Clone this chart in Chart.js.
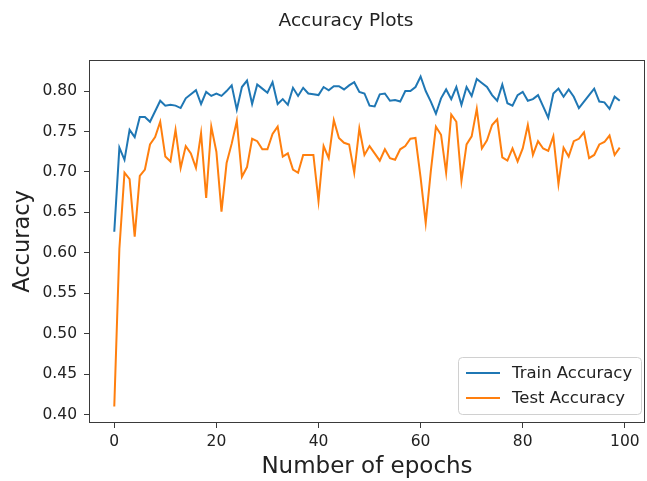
<!DOCTYPE html>
<html>
<head>
<meta charset="utf-8">
<script src="https://cdn.jsdelivr.net/npm/chart.js@4.4.1/dist/chart.umd.min.js"></script>
<style>
    html, body { margin: 0; padding: 0; background: #fff; }
    #wrap { width: 647px; height: 481px; }
</style>
</head>
<body>
<div id="wrap"><canvas id="chart-acc" width="647" height="481"></canvas></div>
<script>
const epochs = Array.from({ length: 100 }, (_, i) => i);

const trainAcc = [
    0.626, 0.730, 0.715, 0.752, 0.743, 0.768, 0.768, 0.762, 0.775, 0.788,
    0.782, 0.783, 0.782, 0.779, 0.791, 0.796, 0.801, 0.784, 0.799, 0.794,
    0.797, 0.794, 0.800, 0.807, 0.777, 0.805, 0.813, 0.784, 0.808, 0.803,
    0.798, 0.811, 0.784, 0.790, 0.783, 0.804, 0.794, 0.804, 0.797, 0.796,
    0.795, 0.805, 0.801, 0.806, 0.806, 0.802, 0.807, 0.811, 0.799, 0.797,
    0.782, 0.781, 0.796, 0.797, 0.788, 0.789, 0.787, 0.800, 0.800, 0.805,
    0.818, 0.800, 0.787, 0.772, 0.791, 0.802, 0.790, 0.805, 0.783, 0.805,
    0.794, 0.815, 0.810, 0.805, 0.795, 0.788, 0.808, 0.785, 0.782, 0.795,
    0.799, 0.788, 0.790, 0.795, 0.781, 0.767, 0.797, 0.803, 0.793, 0.802,
    0.793, 0.779, 0.787, 0.795, 0.803, 0.787, 0.786, 0.778, 0.793, 0.788
];

const testAcc = [
    0.410, 0.605, 0.699, 0.691, 0.620, 0.695, 0.703, 0.734, 0.743, 0.762,
    0.719, 0.713, 0.752, 0.705, 0.732, 0.723, 0.705, 0.748, 0.668, 0.756,
    0.725, 0.651, 0.711, 0.735, 0.763, 0.694, 0.706, 0.741, 0.738, 0.728,
    0.728, 0.747, 0.756, 0.719, 0.723, 0.703, 0.699, 0.721, 0.721, 0.721,
    0.664, 0.732, 0.717, 0.764, 0.742, 0.736, 0.734, 0.699, 0.754, 0.721,
    0.732, 0.723, 0.714, 0.728, 0.717, 0.715, 0.728, 0.732, 0.741, 0.742,
    0.693, 0.637, 0.701, 0.756, 0.746, 0.699, 0.771, 0.762, 0.689, 0.734,
    0.744, 0.778, 0.729, 0.739, 0.758, 0.765, 0.718, 0.714, 0.729, 0.713,
    0.729, 0.758, 0.721, 0.738, 0.729, 0.726, 0.744, 0.685, 0.730, 0.719,
    0.738, 0.741, 0.749, 0.717, 0.721, 0.734, 0.737, 0.745, 0.721, 0.730
];

const xTicks = [0, 20, 40, 60, 80, 100];
const yTicks = [0.40, 0.45, 0.50, 0.55, 0.60, 0.65, 0.70, 0.75, 0.80];

const FONT = 'DejaVu Sans';
const AXIS_COLOR = '#3a3a3a';
const TEXT_COLOR = '#222';

// frame on all four sides, like matplotlib spines
const framePlugin = {
    id: 'frame',
    afterDatasetsDraw(chart) {
        const { ctx, chartArea: a } = chart;
        ctx.save();
        ctx.strokeStyle = AXIS_COLOR;
        ctx.lineWidth = 1;
        ctx.strokeRect(a.left + 0.5, a.top + 0.5, a.right - a.left - 1, a.bottom - a.top - 1);
        ctx.restore();
    }
};

const titlePlugin = {
    id: 'plotTitle',
    afterDraw(chart) {
        const { ctx } = chart;
        ctx.save();
        ctx.font = '18.5px "' + FONT + '"';
        ctx.fillStyle = TEXT_COLOR;
        ctx.textAlign = 'center';
        ctx.textBaseline = 'middle';
        ctx.fillText('Accuracy Plots', 346, 21);
        ctx.restore();
    }
};

// legend box inside the plot, lower right
const legendPlugin = {
    id: 'innerLegend',
    afterDraw(chart) {
        const { ctx, chartArea: a } = chart;
        const w = 183, h = 57;
        const x = a.right - 4 - w, y = a.bottom - 9 - h;
        ctx.save();
        ctx.beginPath();
        ctx.roundRect(x + 0.5, y + 0.5, w, h, 4);
        ctx.fillStyle = 'rgba(255,255,255,0.85)';
        ctx.fill();
        ctx.strokeStyle = '#d0d0d0';
        ctx.lineWidth = 1;
        ctx.stroke();
        ctx.font = '16.5px "' + FONT + '"';
        ctx.textBaseline = 'middle';
        chart.data.datasets.forEach((ds, i) => {
            const ly = y + 16 + i * 25;
            ctx.strokeStyle = ds.borderColor;
            ctx.lineWidth = 2;
            ctx.beginPath();
            ctx.moveTo(x + 8, ly);
            ctx.lineTo(x + 42, ly);
            ctx.stroke();
            ctx.fillStyle = TEXT_COLOR;
            ctx.fillText(ds.label, x + 54, ly + 1);
        });
        ctx.restore();
    }
};

new Chart(document.getElementById('chart-acc').getContext('2d'), {
    type: 'line',
    data: {
        datasets: [
            {
                label: 'Train Accuracy',
                data: epochs.map((e, i) => ({ x: e, y: trainAcc[i] })),
                borderColor: '#1f77b4',
                borderWidth: 2,
                fill: false
            },
            {
                label: 'Test Accuracy',
                data: epochs.map((e, i) => ({ x: e, y: testAcc[i] })),
                borderColor: '#ff7f0e',
                borderWidth: 2,
                fill: false
            }
        ]
    },
    options: {
        responsive: false,
        animation: false,
        layout: { padding: { left: 0, right: 2, top: 60, bottom: 0 } },
        elements: { point: { radius: 0 }, line: { tension: 0 } },
        plugins: {
            legend: { display: false },
            tooltip: { enabled: false }
        },
        scales: {
            x: {
                type: 'linear',
                min: -4.95,
                max: 103.95,
                afterBuildTicks: s => { s.ticks = xTicks.map(v => ({ value: v })); },
                afterFit: s => { s.height = 58; },
                grid: { drawOnChartArea: false, drawTicks: true, tickLength: 5, color: AXIS_COLOR },
                border: { display: false },
                ticks: {
                    color: TEXT_COLOR,
                    padding: 5,
                    maxRotation: 0,
                    font: { family: FONT, size: 15.5 },
                    callback: v => String(v)
                },
                title: {
                    display: true,
                    text: 'Number of epochs',
                    color: TEXT_COLOR,
                    font: { family: FONT, size: 23 },
                    padding: { top: 0, bottom: 0.5 }
                }
            },
            y: {
                min: 0.3896,
                max: 0.8384,
                afterBuildTicks: s => { s.ticks = yTicks.map(v => ({ value: v })); },
                afterFit: s => { s.width = 89; },
                grid: { drawOnChartArea: false, drawTicks: true, tickLength: 5, color: AXIS_COLOR },
                border: { display: false },
                ticks: {
                    color: TEXT_COLOR,
                    padding: 7,
                    font: { family: FONT, size: 15.5 },
                    callback: v => v.toFixed(2)
                },
                title: {
                    display: true,
                    text: 'Accuracy',
                    color: TEXT_COLOR,
                    font: { family: FONT, size: 22.5 },
                    padding: { top: 9.5, bottom: 0 }
                }
            }
        }
    },
    plugins: [framePlugin, titlePlugin, legendPlugin]
});
</script>
</body>
</html>
